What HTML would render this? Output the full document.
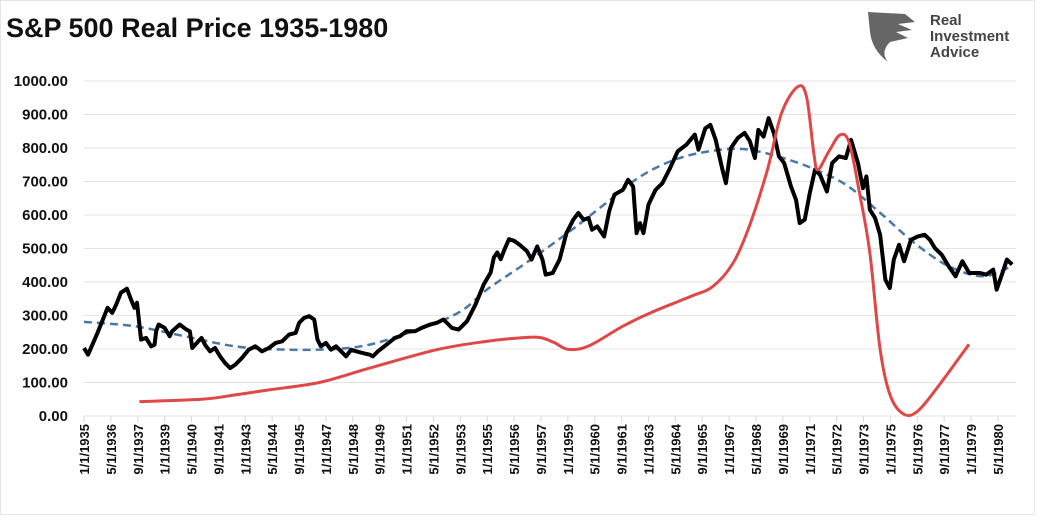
<!DOCTYPE html>
<html><head><meta charset="utf-8"><style>
body{margin:0;background:#fff;width:1058px;height:516px;overflow:hidden;font-family:"Liberation Sans",Arial,sans-serif}
</style></head><body>
<svg id="chart" width="1058" height="516" xmlns="http://www.w3.org/2000/svg">
<rect x="0.5" y="0.5" width="1034" height="514" fill="#fff" stroke="#e6e6e6"/>
<text x="6" y="37" font-size="27" font-weight="bold" fill="#111">S&amp;P 500 Real Price 1935-1980</text>
<g>
<path d="M868 12 L905 14 L915 22 L898 24 L912 30 L896 32 L908 38 L890 42 Q880 52 888 62 Q872 50 870 32 Z" fill="#666"/>
<text x="930" y="25" font-size="15" font-weight="bold" fill="#444">Real</text>
<text x="930" y="41" font-size="15" font-weight="bold" fill="#444">Investment</text>
<text x="930" y="57" font-size="15" font-weight="bold" fill="#444">Advice</text>
</g>
<g id="grid"></g><g id="yax"></g><g id="xax"></g><g id="series"></g>
</svg>
<script>
const yTicks=[0,100,200,300,400,500,600,700,800,900,1000];
const xTickLabels=["1/1/1935","5/1/1936","9/1/1937","1/1/1939","5/1/1940","9/1/1941","1/1/1943","5/1/1944","9/1/1945","1/1/1947","5/1/1948","9/1/1949","1/1/1951","5/1/1952","9/1/1953","1/1/1955","5/1/1956","9/1/1957","1/1/1959","5/1/1960","9/1/1961","1/1/1963","5/1/1964","9/1/1965","1/1/1967","5/1/1968","9/1/1969","1/1/1971","5/1/1972","9/1/1973","1/1/1975","5/1/1976","9/1/1977","1/1/1979","5/1/1980"];
const priceYears=[1935.0,1935.2,1935.67,1936.17,1936.4,1936.6,1936.83,1937.13,1937.33,1937.5,1937.63,1937.83,1938.08,1938.33,1938.5,1938.58,1938.7,1939.0,1939.25,1939.37,1939.75,1940.08,1940.25,1940.37,1940.67,1940.83,1941.0,1941.25,1941.5,1941.75,1942.0,1942.25,1942.5,1942.83,1943.17,1943.5,1943.83,1944.17,1944.5,1944.83,1945.17,1945.5,1945.67,1945.92,1946.17,1946.42,1946.58,1946.75,1947.0,1947.25,1947.5,1947.75,1948.0,1948.25,1948.5,1948.83,1949.17,1949.33,1949.58,1950.0,1950.42,1950.67,1951.0,1951.42,1951.75,1952.17,1952.5,1952.83,1953.0,1953.25,1953.58,1954.0,1954.42,1954.83,1955.17,1955.33,1955.5,1955.67,1955.83,1956.08,1956.33,1956.63,1956.97,1957.2,1957.48,1957.74,1957.9,1958.25,1958.59,1958.93,1959.27,1959.52,1959.78,1960.03,1960.2,1960.46,1960.8,1961.05,1961.31,1961.73,1961.99,1962.24,1962.41,1962.58,1962.75,1963.0,1963.35,1963.69,1964.03,1964.45,1964.88,1965.3,1965.48,1965.82,1966.07,1966.33,1966.67,1966.84,1967.09,1967.43,1967.77,1968.03,1968.28,1968.45,1968.71,1968.96,1969.22,1969.47,1969.73,1970.07,1970.32,1970.5,1970.75,1971.0,1971.26,1971.51,1971.85,1972.11,1972.45,1972.79,1973.05,1973.39,1973.64,1973.81,1973.98,1974.24,1974.49,1974.75,1974.97,1975.17,1975.43,1975.68,1976.02,1976.36,1976.7,1976.96,1977.21,1977.55,1977.89,1978.23,1978.57,1978.91,1979.42,1979.76,1980.1,1980.27,1980.53,1980.78,1981.04];
const priceValues=[203,183,248,323,308,333,368,380,348,323,338,228,233,208,213,253,273,263,238,253,273,258,253,203,223,233,213,193,203,178,158,143,153,173,198,208,193,203,218,223,243,248,278,293,298,288,228,208,218,198,208,193,178,198,193,188,183,178,193,213,233,238,253,253,263,273,278,288,278,263,258,283,333,393,428,473,488,468,493,528,523,510,492,467,506,467,422,427,467,546,586,606,586,591,556,566,536,611,661,675,705,685,546,576,546,631,675,695,735,790,810,840,795,859,869,825,735,695,800,830,845,820,770,854,834,889,844,775,755,685,645,576,586,665,735,720,670,755,775,770,824,755,680,715,616,591,541,407,382,467,511,462,526,536,541,526,501,481,447,417,462,427,427,422,437,377,422,467,452];
const cycleYears=[1937.75,1940.83,1942.5,1944.17,1946.67,1949.17,1952.5,1955,1956.8,1957.65,1958.33,1959.01,1960.03,1961.73,1963.1,1965.1,1966.2,1967.2,1968.0,1968.9,1969.6,1970.4,1970.84,1971.2,1971.4,1971.95,1972.5,1972.96,1973.47,1973.98,1974.49,1975.0,1975.68,1976.36,1977.38,1978.9];
const cycleValues=[43,50,63,78,100,143,198,223,234,234,219,199,209,268,308,357,387,457,566,735,904,983,953,785,735,790,839,815,665,487,199,60,5,15,89,214];
const trendYears=[1935,1937.5,1940,1942.5,1945,1947.5,1949.17,1950.83,1952.5,1953.83,1955,1957,1959.2,1960.9,1962.6,1964.3,1966,1967.7,1969.4,1971.1,1972.8,1974.5,1976.2,1977.9,1979.6,1981];
const trendValues=[281,268,238,208,198,200,213,243,278,318,378,460,556,636,715,765,790,797,775,740,690,606,516,447,417,447];

const X0=84,PXY=20.16,Y0=416,PXV=0.335;
const xs=y=>X0+(y-1935)*PXY, ys=v=>Y0-v*PXV;
const NS="http://www.w3.org/2000/svg";
function mk(t,a,p){const e=document.createElementNS(NS,t);for(const k in a)e.setAttribute(k,a[k]);p.appendChild(e);return e;}
const grid=document.getElementById('grid'),yax=document.getElementById('yax'),xax=document.getElementById('xax'),ser=document.getElementById('series');
yTicks.forEach(v=>{
 const l=mk('line',{x1:X0,x2:1016,y1:ys(v),y2:ys(v),stroke:'#e3e3e3','stroke-width':1},grid);
 
 
 const t=mk('text',{x:68,y:ys(v)+5,'text-anchor':'end','font-size':15,'font-weight':'bold',fill:'#111'},yax);
 t.textContent=v.toFixed(2);
 
 
});
xTickLabels.forEach((s,i)=>{
 const p=s.split('/');const yr=+p[2]+(+p[0]-1)/12;const x=xs(yr);
 const tk=mk('line',{x1:x,x2:x,y1:Y0,y2:Y0+6,stroke:'#d9d9d9'},xax);
 
 
 const t=mk('text',{transform:`translate(${x+5},${Y0+8}) rotate(-90)`,'text-anchor':'end','font-size':13,'font-weight':'bold',fill:'#111'},xax);
 t.textContent=s;
 
 
});
function smooth(pts){let d=`M${pts[0][0]},${pts[0][1]}`;for(let i=0;i<pts.length-1;i++){const p0=pts[i-1]||pts[i],p1=pts[i],p2=pts[i+1],p3=pts[i+2]||p2;
 d+=` C${p1[0]+(p2[0]-p0[0])/6},${p1[1]+(p2[1]-p0[1])/6} ${p2[0]-(p3[0]-p1[0])/6},${p2[1]-(p3[1]-p1[1])/6} ${p2[0]},${p2[1]}`;}return d;}
const tp=mk('path',{d:smooth(trendYears.map((y,i)=>[xs(y),ys(trendValues[i])])),fill:'none',stroke:'#4a78a8','stroke-width':2.5,'stroke-dasharray':'8,5'},ser);


const pp=mk('polyline',{points:priceYears.map((y,i)=>xs(y)+','+ys(priceValues[i])).join(' '),fill:'none',stroke:'#000','stroke-width':4,'stroke-linejoin':'round'},ser);


const cp=mk('path',{d:smooth(cycleYears.map((y,i)=>[xs(y),ys(cycleValues[i])])),fill:'none',stroke:'#e04848','stroke-width':3},ser);


</script>
</body></html>
